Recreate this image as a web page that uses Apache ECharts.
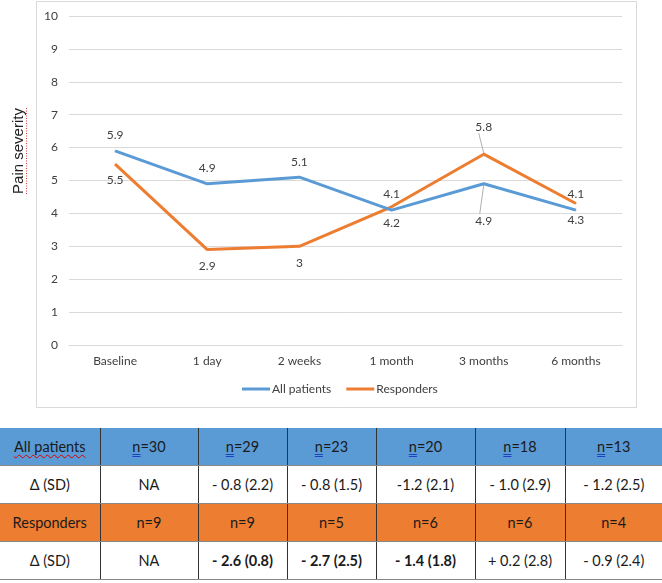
<!DOCTYPE html>
<html>
<head>
<meta charset="utf-8">
<script src="https://cdn.jsdelivr.net/npm/echarts@6/dist/echarts.min.js"></script>
<style>
  html, body { margin: 0; padding: 0; background: #fff; }
  #wrap { position: relative; width: 662px; height: 583px; overflow: hidden; }
  #chart { position: absolute; left: 0; top: 0; width: 662px; height: 420px; }
  #tbl { position: absolute; left: 0; top: 428px; width: 662px; border-collapse: collapse; table-layout: fixed;
         font-family: Lato, "Open Sans", sans-serif; font-size: 14.5px; color: #1a1a1a; }
  #tbl td { text-align: center; height: 37px; padding: 0; border-left: 1.5px solid #333; border-right: 1.5px solid #333; border-top: 1px solid #888; border-bottom: 1px solid #888; }
  #tbl td:first-child { border-left: none; }
  #tbl td:last-child { border-right: none; }
  #tbl tr.blue td { background: #5B9BD5; }
  #tbl tr.orange td { background: #ED7D31; }
  #tbl tr:first-child td { border-top: none; }
  .sp { text-decoration: underline wavy #d00; text-underline-offset: 2px; text-decoration-thickness: 1px; }
  .gr { text-decoration: underline double #2040c0; text-underline-offset: 2px; }
  b { font-weight: 700; }
</style>
</head>
<body>
<div id="wrap">
  <div id="chart"></div>
  <table id="tbl"></table>
</div>
<script>
const categories = ['Baseline', '1 day', '2 weeks', '1 month', '3 months', '6 months'];
const allPatients = [5.9, 4.9, 5.1, 4.1, 4.9, 4.1];
const responders = [5.5, 2.9, 3.0, 4.2, 5.8, 4.3];
const yTicks = [0, 1, 2, 3, 4, 5, 6, 7, 8, 9, 10];

const allN = ['n=30', 'n=29', 'n=23', 'n=20', 'n=18', 'n=13'];
const allDelta = ['NA', '- 0.8 (2.2)', '- 0.8 (1.5)', '-1.2 (2.1)', '- 1.0 (2.9)', '- 1.2 (2.5)'];
const respN = ['n=9', 'n=9', 'n=5', 'n=6', 'n=6', 'n=4'];
const respDelta = ['NA', '- 2.6 (0.8)', '- 2.7 (2.5)', '- 1.4 (1.8)', '+ 0.2 (2.8)', '- 0.9 (2.4)'];
const respDeltaBold = [false, true, true, true, false, false];

const calibri = 'Lato, "Open Sans", sans-serif';
const txt = '#404040';

// table
(function () {
  const t = document.getElementById('tbl');
  const colW = [100, 98, 89, 89, 99, 90, 97];
  let cg = '<colgroup>' + colW.map(w => '<col style="width:' + w + 'px">').join('') + '</colgroup>';
  const nCell = s => '<span class="gr">n</span>' + s.slice(1);
  let h = cg;
  h += '<tr class="blue"><td><span class="sp">All patients</span></td>' + allN.map(s => '<td>' + nCell(s) + '</td>').join('') + '</tr>';
  h += '<tr><td>Δ (SD)</td>' + allDelta.map(s => '<td>' + s + '</td>').join('') + '</tr>';
  h += '<tr class="orange"><td>Responders</td>' + respN.map(s => '<td>' + s + '</td>').join('') + '</tr>';
  h += '<tr><td>Δ (SD)</td>' + respDelta.map((s, i) => '<td>' + (respDeltaBold[i] ? '<b>' + s + '</b>' : s) + '</td>').join('') + '</tr>';
  t.innerHTML = h;
})();

const chart = echarts.init(document.getElementById('chart'), null, { renderer: 'canvas' });

function labelCfg(pos, dist) {
  return { show: true, position: pos, distance: dist, color: txt, fontFamily: calibri, fontSize: 12 };
}

const allData = allPatients.map((v, i) => i === 4
  ? { value: v, label: labelCfg('bottom', 31) }
  : { value: v });
const respData = responders.map((v, i) => i === 4
  ? { value: v, label: labelCfg('top', 21) }
  : { value: v });

const baseGraphic = [
  { type: 'rect', shape: { x: 36.5, y: 1.5, width: 600, height: 406 }, style: { fill: 'none', stroke: '#d9d9d9', lineWidth: 1 }, z: -1 },
  { type: 'text', x: 19, y: 151, rotation: Math.PI / 2,
    style: { text: 'Pain severity', align: 'center', verticalAlign: 'middle', fill: '#222', font: '15px "Liberation Sans", Arial, sans-serif' } },
  { type: 'line', shape: { x1: 26.5, y1: 108, x2: 26.5, y2: 195 }, style: { stroke: '#d04040', lineWidth: 1, lineDash: [1, 1.5] } }
];

chart.setOption({
  animation: false,
  backgroundColor: '#fff',
  grid: { left: 69, right: 40, top: 16, bottom: 75, containLabel: false },
  legend: {
    left: 242, top: 383, padding: 0,
    itemWidth: 28, itemHeight: 3, itemGap: 15,
    icon: 'rect',
    textStyle: { color: txt, fontFamily: calibri, fontSize: 12, padding: [0, 0, 0, -3] },
    data: ['All patients', 'Responders']
  },
  xAxis: {
    type: 'category',
    data: categories,
    boundaryGap: true,
    axisLine: { show: true, lineStyle: { color: '#d9d9d9', width: 1 } },
    axisTick: { show: false },
    axisLabel: { color: txt, fontFamily: calibri, fontSize: 12, margin: 10 }
  },
  yAxis: {
    type: 'value',
    min: 0, max: 10, interval: 1,
    axisLine: { show: false },
    axisTick: { show: false },
    axisLabel: { color: txt, fontFamily: calibri, fontSize: 12, margin: 11,
      formatter: v => yTicks.indexOf(v) >= 0 ? String(v) : '' },
    splitLine: { lineStyle: { color: '#d9d9d9', width: 1 } }
  },
  series: [
    {
      name: 'All patients', type: 'line', data: allData,
      symbol: 'circle', symbolSize: 1, showSymbol: true,
      lineStyle: { color: '#5B9BD5', width: 3 },
      itemStyle: { color: '#5B9BD5' },
      label: labelCfg('top', 9),
      z: 3
    },
    {
      name: 'Responders', type: 'line', data: respData,
      symbol: 'circle', symbolSize: 1, showSymbol: true,
      lineStyle: { color: '#ED7D31', width: 3 },
      itemStyle: { color: '#ED7D31' },
      label: labelCfg('bottom', 10),
      z: 2
    }
  ],
  graphic: baseGraphic
});

// leader lines for the moved labels (positions from the chart's own scales)
(function () {
  const pOrange = chart.convertToPixel({ seriesIndex: 1 }, [4, responders[4]]);
  const pBlue = chart.convertToPixel({ seriesIndex: 0 }, [4, allPatients[4]]);
  chart.setOption({
    graphic: baseGraphic.concat([
      { type: 'line', shape: { x1: pOrange[0] - 5, y1: pOrange[1] - 21, x2: pOrange[0], y2: pOrange[1] - 1 }, style: { stroke: '#b0b0b0', lineWidth: 1 }, z: 1 },
      { type: 'line', shape: { x1: pBlue[0], y1: pBlue[1] + 1, x2: pBlue[0] - 4, y2: pBlue[1] + 30 }, style: { stroke: '#b0b0b0', lineWidth: 1 }, z: 1 }
    ])
  }, { replaceMerge: ['graphic'] });
})();
</script>
</body>
</html>
